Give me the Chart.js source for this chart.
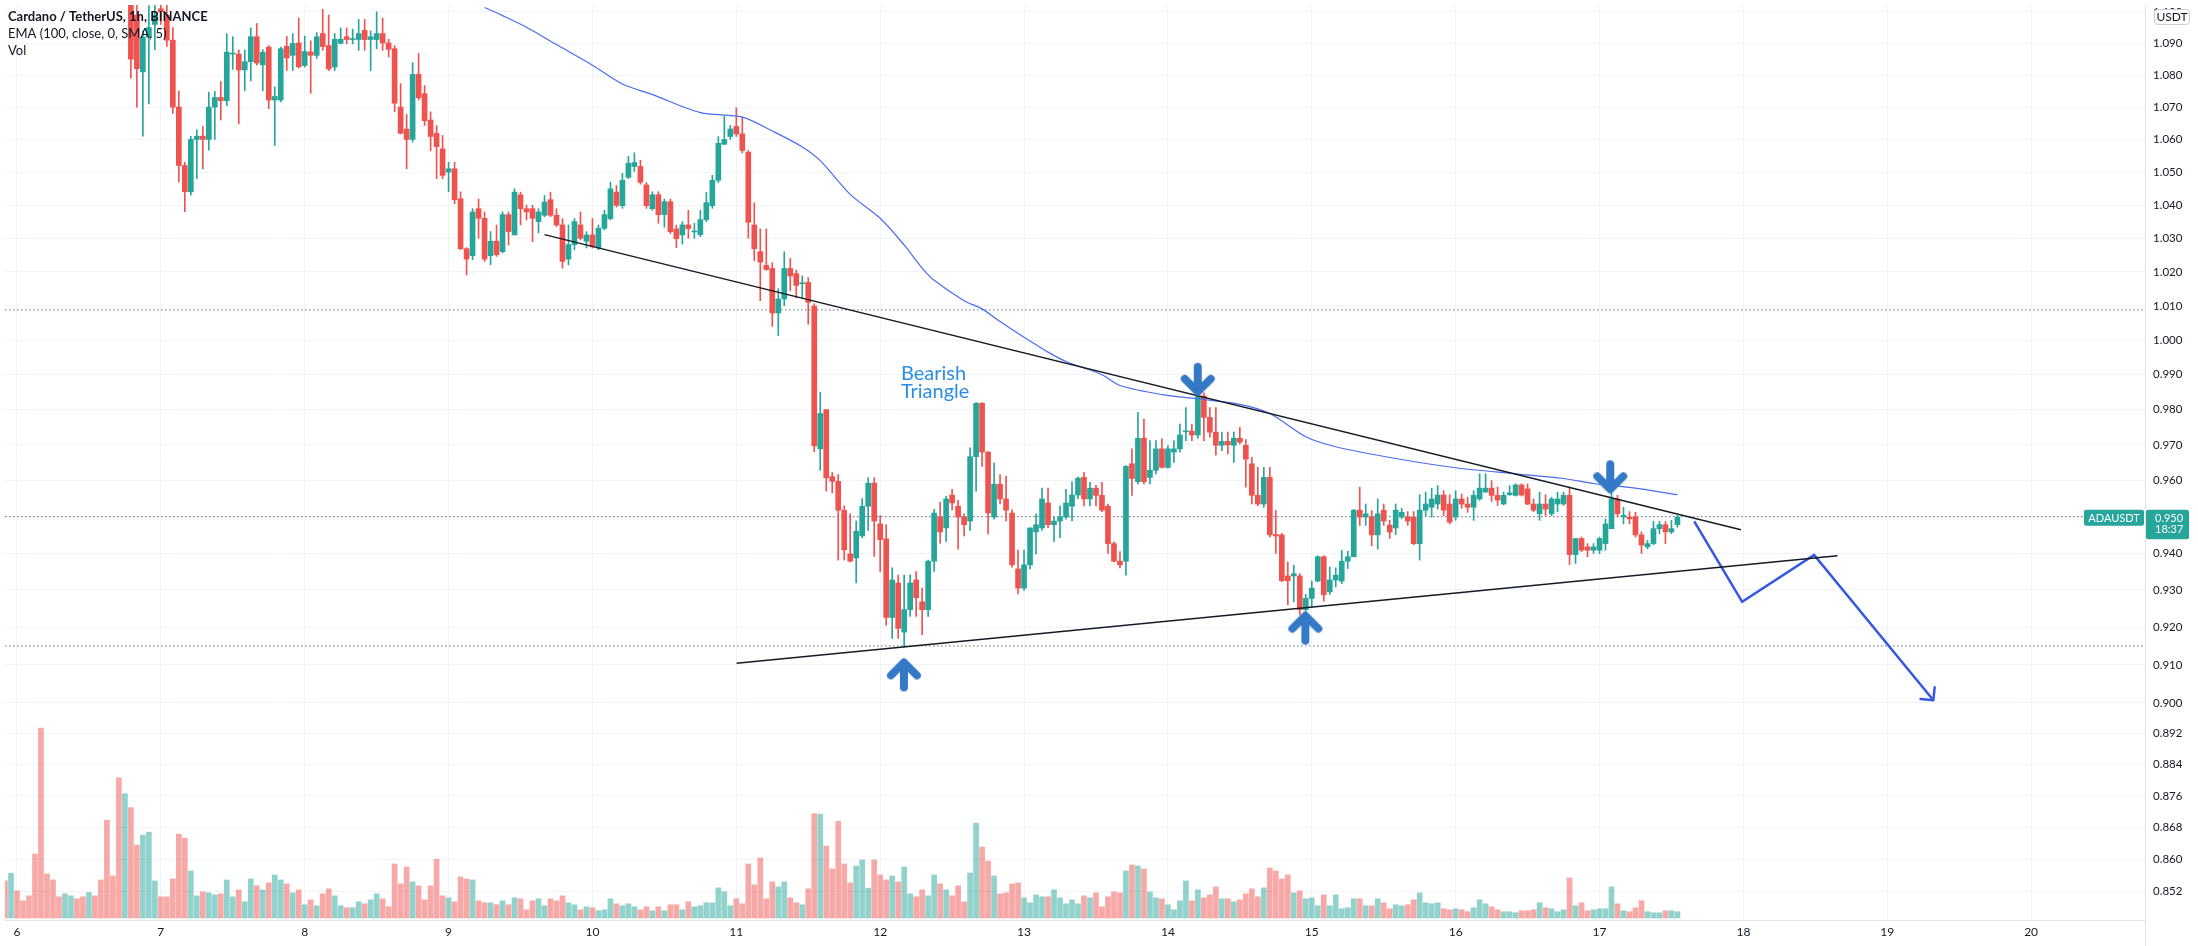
<!DOCTYPE html>
<html>
<head>
<meta charset="utf-8">
<title>ADAUSDT 1h</title>
<script src="https://cdn.jsdelivr.net/npm/chart.js@4.4.1/dist/chart.umd.min.js"></script>
<style>
    html, body { margin: 0; padding: 0; background: #ffffff; }
    #wrap { width: 2198px; height: 946px; }
</style>
</head>
<body>
<div id="wrap"><canvas id="chart" width="2198" height="946"></canvas></div>
<script>
// hour 0 = day 6, 00:00 (1h candles)
const firstCandleHour = 19;
// [open, high, low, close]
const candles = [
    [1.1120, 1.1160, 1.0790, 1.0850], [1.0990, 1.1040, 1.0700, 1.0820], [1.0810, 1.0940, 1.0610, 1.0920], [1.0920, 1.1020, 1.0710, 1.0950],
    [1.0960, 1.1030, 1.0880, 1.0990], [1.1010, 1.1060, 1.0960, 1.1000], [1.0990, 1.1040, 1.0890, 1.0910], [1.0910, 1.0950, 1.0680, 1.0700],
    [1.0700, 1.0750, 1.0470, 1.0520], [1.0520, 1.0530, 1.0380, 1.0440], [1.0440, 1.0610, 1.0430, 1.0600], [1.0600, 1.0630, 1.0480, 1.0610],
    [1.0610, 1.0640, 1.0510, 1.0600], [1.0600, 1.0746, 1.0567, 1.0700], [1.0700, 1.0749, 1.0600, 1.0730], [1.0730, 1.0780, 1.0660, 1.0720],
    [1.0720, 1.0931, 1.0704, 1.0872], [1.0866, 1.0921, 1.0818, 1.0868], [1.0866, 1.0879, 1.0648, 1.0816], [1.0816, 1.0879, 1.0751, 1.0842],
    [1.0842, 1.0949, 1.0782, 1.0921], [1.0921, 1.0963, 1.0831, 1.0838], [1.0832, 1.0880, 1.0751, 1.0872], [1.0888, 1.0893, 1.0695, 1.0722],
    [1.0722, 1.0763, 1.0581, 1.0733], [1.0722, 1.0888, 1.0716, 1.0883], [1.0891, 1.0922, 1.0814, 1.0854], [1.0862, 1.0931, 1.0814, 1.0900],
    [1.0901, 1.0980, 1.0822, 1.0826], [1.0830, 1.0923, 1.0825, 1.0874], [1.0873, 1.0908, 1.0743, 1.0862], [1.0862, 1.0934, 1.0852, 1.0921],
    [1.0931, 1.1008, 1.0878, 1.0890], [1.0893, 1.0990, 1.0814, 1.0819], [1.0825, 1.0931, 1.0814, 1.0913], [1.0900, 1.0949, 1.0898, 1.0913],
    [1.0921, 1.0949, 1.0898, 1.0912], [1.0912, 1.0945, 1.0898, 1.0914], [1.0912, 1.0976, 1.0878, 1.0931], [1.0941, 1.0976, 1.0878, 1.0912],
    [1.0912, 1.0939, 1.0814, 1.0921], [1.0912, 1.1000, 1.0883, 1.0931], [1.0931, 1.0980, 1.0878, 1.0901], [1.0901, 1.0913, 1.0857, 1.0881],
    [1.0883, 1.0893, 1.0685, 1.0712], [1.0700, 1.0773, 1.0617, 1.0619], [1.0632, 1.0677, 1.0510, 1.0600], [1.0600, 1.0839, 1.0592, 1.0802],
    [1.0802, 1.0868, 1.0722, 1.0729], [1.0742, 1.0767, 1.0643, 1.0658], [1.0660, 1.0685, 1.0565, 1.0609], [1.0619, 1.0643, 1.0480, 1.0578],
    [1.0571, 1.0612, 1.0480, 1.0490], [1.0500, 1.0530, 1.0440, 1.0510], [1.0510, 1.0530, 1.0404, 1.0416], [1.0419, 1.0440, 1.0266, 1.0269],
    [1.0269, 1.0272, 1.0191, 1.0238], [1.0248, 1.0389, 1.0236, 1.0379], [1.0389, 1.0418, 1.0300, 1.0360], [1.0360, 1.0379, 1.0231, 1.0238],
    [1.0248, 1.0320, 1.0221, 1.0291], [1.0291, 1.0340, 1.0246, 1.0251], [1.0260, 1.0379, 1.0256, 1.0371], [1.0371, 1.0379, 1.0280, 1.0320],
    [1.0310, 1.0449, 1.0310, 1.0439], [1.0431, 1.0439, 1.0340, 1.0389], [1.0389, 1.0399, 1.0355, 1.0379], [1.0389, 1.0399, 1.0290, 1.0360],
    [1.0350, 1.0389, 1.0316, 1.0379], [1.0369, 1.0429, 1.0365, 1.0409], [1.0416, 1.0439, 1.0365, 1.0369], [1.0369, 1.0389, 1.0335, 1.0340],
    [1.0340, 1.0359, 1.0211, 1.0231], [1.0238, 1.0340, 1.0221, 1.0281], [1.0281, 1.0359, 1.0266, 1.0350], [1.0340, 1.0379, 1.0295, 1.0300],
    [1.0291, 1.0320, 1.0271, 1.0310], [1.0310, 1.0359, 1.0271, 1.0276], [1.0271, 1.0340, 1.0266, 1.0330], [1.0330, 1.0384, 1.0325, 1.0371],
    [1.0359, 1.0469, 1.0355, 1.0449], [1.0439, 1.0459, 1.0394, 1.0399], [1.0398, 1.0496, 1.0390, 1.0475], [1.0484, 1.0548, 1.0480, 1.0527],
    [1.0517, 1.0559, 1.0502, 1.0529], [1.0517, 1.0536, 1.0463, 1.0469], [1.0461, 1.0468, 1.0390, 1.0398], [1.0389, 1.0440, 1.0384, 1.0431],
    [1.0431, 1.0440, 1.0345, 1.0371], [1.0371, 1.0418, 1.0333, 1.0410], [1.0410, 1.0418, 1.0314, 1.0320], [1.0328, 1.0339, 1.0272, 1.0299],
    [1.0310, 1.0350, 1.0283, 1.0340], [1.0340, 1.0384, 1.0300, 1.0329], [1.0319, 1.0345, 1.0300, 1.0321], [1.0311, 1.0384, 1.0305, 1.0356],
    [1.0356, 1.0438, 1.0350, 1.0407], [1.0398, 1.0490, 1.0390, 1.0475], [1.0475, 1.0609, 1.0468, 1.0588], [1.0585, 1.0671, 1.0585, 1.0600],
    [1.0609, 1.0643, 1.0600, 1.0632], [1.0640, 1.0698, 1.0609, 1.0617], [1.0617, 1.0669, 1.0559, 1.0566], [1.0561, 1.0566, 1.0300, 1.0348],
    [1.0340, 1.0407, 1.0233, 1.0269], [1.0260, 1.0328, 1.0115, 1.0229], [1.0219, 1.0328, 1.0205, 1.0207], [1.0210, 1.0227, 1.0040, 1.0079],
    [1.0079, 1.0150, 1.0013, 1.0120], [1.0120, 1.0260, 1.0100, 1.0210], [1.0210, 1.0240, 1.0144, 1.0188], [1.0195, 1.0205, 1.0123, 1.0160],
    [1.0165, 1.0188, 1.0123, 1.0167], [1.0169, 1.0183, 1.0046, 1.0110], [1.0099, 1.0106, 0.9681, 0.9697], [0.9689, 0.9850, 0.9629, 0.9789],
    [0.9800, 0.9800, 0.9571, 0.9608], [0.9611, 0.9623, 0.9566, 0.9598], [0.9598, 0.9617, 0.9381, 0.9518], [0.9518, 0.9530, 0.9381, 0.9409],
    [0.9398, 0.9508, 0.9376, 0.9378], [0.9387, 0.9488, 0.9319, 0.9460], [0.9447, 0.9550, 0.9442, 0.9529], [0.9529, 0.9608, 0.9462, 0.9593],
    [0.9593, 0.9608, 0.9391, 0.9488], [0.9480, 0.9503, 0.9350, 0.9437], [0.9439, 0.9478, 0.9205, 0.9226], [0.9226, 0.9360, 0.9170, 0.9327],
    [0.9319, 0.9340, 0.9170, 0.9197], [0.9187, 0.9340, 0.9147, 0.9247], [0.9247, 0.9340, 0.9229, 0.9319], [0.9327, 0.9350, 0.9229, 0.9279],
    [0.9268, 0.9305, 0.9180, 0.9247], [0.9247, 0.9381, 0.9229, 0.9378], [0.9378, 0.9520, 0.9350, 0.9510], [0.9499, 0.9540, 0.9427, 0.9458],
    [0.9469, 0.9556, 0.9432, 0.9549], [0.9560, 0.9576, 0.9519, 0.9538], [0.9529, 0.9545, 0.9411, 0.9499], [0.9499, 0.9508, 0.9447, 0.9478],
    [0.9488, 0.9692, 0.9462, 0.9667], [0.9667, 0.9820, 0.9571, 0.9818], [0.9818, 0.9820, 0.9640, 0.9680], [0.9680, 0.9681, 0.9452, 0.9510],
    [0.9499, 0.9650, 0.9493, 0.9590], [0.9590, 0.9617, 0.9535, 0.9549], [0.9549, 0.9613, 0.9488, 0.9518], [0.9510, 0.9519, 0.9362, 0.9368],
    [0.9357, 0.9408, 0.9289, 0.9305], [0.9305, 0.9408, 0.9299, 0.9368], [0.9368, 0.9469, 0.9357, 0.9469], [0.9458, 0.9508, 0.9398, 0.9478],
    [0.9469, 0.9579, 0.9462, 0.9549], [0.9538, 0.9579, 0.9470, 0.9478], [0.9478, 0.9499, 0.9432, 0.9488], [0.9488, 0.9530, 0.9442, 0.9499],
    [0.9499, 0.9576, 0.9493, 0.9538], [0.9529, 0.9597, 0.9488, 0.9560], [0.9560, 0.9610, 0.9550, 0.9607], [0.9609, 0.9623, 0.9530, 0.9549],
    [0.9549, 0.9595, 0.9530, 0.9579], [0.9579, 0.9587, 0.9530, 0.9559], [0.9559, 0.9595, 0.9514, 0.9518], [0.9529, 0.9535, 0.9399, 0.9426],
    [0.9426, 0.9431, 0.9376, 0.9378], [0.9378, 0.9404, 0.9360, 0.9368], [0.9378, 0.9642, 0.9340, 0.9640], [0.9647, 0.9689, 0.9559, 0.9606],
    [0.9597, 0.9792, 0.9591, 0.9719], [0.9719, 0.9773, 0.9591, 0.9597], [0.9609, 0.9712, 0.9591, 0.9629], [0.9629, 0.9712, 0.9619, 0.9689],
    [0.9689, 0.9717, 0.9635, 0.9637], [0.9637, 0.9698, 0.9635, 0.9689], [0.9680, 0.9712, 0.9651, 0.9689], [0.9689, 0.9759, 0.9680, 0.9728],
    [0.9737, 0.9806, 0.9712, 0.9740], [0.9739, 0.9759, 0.9712, 0.9728], [0.9728, 0.9848, 0.9719, 0.9839], [0.9839, 0.9848, 0.9712, 0.9778],
    [0.9778, 0.9806, 0.9722, 0.9736], [0.9736, 0.9806, 0.9671, 0.9699], [0.9699, 0.9736, 0.9684, 0.9710], [0.9710, 0.9736, 0.9675, 0.9700],
    [0.9699, 0.9736, 0.9651, 0.9719], [0.9719, 0.9750, 0.9703, 0.9708], [0.9699, 0.9715, 0.9582, 0.9660], [0.9647, 0.9665, 0.9535, 0.9559],
    [0.9559, 0.9637, 0.9530, 0.9535], [0.9535, 0.9637, 0.9526, 0.9609], [0.9609, 0.9637, 0.9444, 0.9450], [0.9451, 0.9517, 0.9399, 0.9447],
    [0.9450, 0.9454, 0.9322, 0.9325], [0.9338, 0.9376, 0.9260, 0.9325], [0.9338, 0.9367, 0.9268, 0.9344], [0.9338, 0.9344, 0.9233, 0.9247],
    [0.9247, 0.9288, 0.9240, 0.9277], [0.9277, 0.9324, 0.9253, 0.9305], [0.9324, 0.9393, 0.9322, 0.9390], [0.9390, 0.9393, 0.9270, 0.9287],
    [0.9295, 0.9362, 0.9288, 0.9327], [0.9327, 0.9360, 0.9308, 0.9340], [0.9324, 0.9408, 0.9317, 0.9378], [0.9378, 0.9405, 0.9358, 0.9390],
    [0.9390, 0.9520, 0.9390, 0.9518], [0.9518, 0.9582, 0.9476, 0.9499], [0.9499, 0.9535, 0.9476, 0.9508], [0.9499, 0.9517, 0.9420, 0.9450],
    [0.9450, 0.9549, 0.9411, 0.9508], [0.9518, 0.9535, 0.9476, 0.9488], [0.9477, 0.9490, 0.9440, 0.9458], [0.9469, 0.9535, 0.9451, 0.9518],
    [0.9499, 0.9523, 0.9494, 0.9512], [0.9499, 0.9514, 0.9476, 0.9488], [0.9499, 0.9514, 0.9423, 0.9426], [0.9426, 0.9561, 0.9381, 0.9518],
    [0.9518, 0.9568, 0.9503, 0.9535], [0.9526, 0.9579, 0.9499, 0.9549], [0.9535, 0.9586, 0.9521, 0.9560], [0.9560, 0.9572, 0.9503, 0.9518],
    [0.9535, 0.9561, 0.9480, 0.9485], [0.9499, 0.9572, 0.9490, 0.9549], [0.9549, 0.9563, 0.9523, 0.9535], [0.9535, 0.9554, 0.9512, 0.9526],
    [0.9526, 0.9572, 0.9490, 0.9559], [0.9549, 0.9619, 0.9545, 0.9579], [0.9568, 0.9619, 0.9568, 0.9579], [0.9579, 0.9600, 0.9542, 0.9559],
    [0.9559, 0.9582, 0.9531, 0.9546], [0.9535, 0.9568, 0.9533, 0.9559], [0.9561, 0.9586, 0.9559, 0.9566], [0.9559, 0.9591, 0.9557, 0.9588],
    [0.9588, 0.9591, 0.9557, 0.9560], [0.9577, 0.9591, 0.9533, 0.9535], [0.9535, 0.9549, 0.9514, 0.9518], [0.9508, 0.9568, 0.9490, 0.9535],
    [0.9535, 0.9561, 0.9503, 0.9521], [0.9508, 0.9554, 0.9503, 0.9549], [0.9535, 0.9568, 0.9514, 0.9549], [0.9535, 0.9568, 0.9531, 0.9559],
    [0.9559, 0.9582, 0.9369, 0.9396], [0.9396, 0.9440, 0.9372, 0.9440], [0.9440, 0.9444, 0.9404, 0.9408], [0.9417, 0.9426, 0.9390, 0.9408],
    [0.9408, 0.9426, 0.9399, 0.9417], [0.9408, 0.9444, 0.9399, 0.9440], [0.9426, 0.9494, 0.9408, 0.9480], [0.9467, 0.9568, 0.9467, 0.9549],
    [0.9549, 0.9559, 0.9499, 0.9508], [0.9499, 0.9526, 0.9480, 0.9504], [0.9499, 0.9514, 0.9480, 0.9494], [0.9499, 0.9512, 0.9444, 0.9450],
    [0.9450, 0.9458, 0.9399, 0.9422], [0.9417, 0.9435, 0.9412, 0.9426], [0.9426, 0.9487, 0.9423, 0.9467], [0.9467, 0.9487, 0.9453, 0.9478],
    [0.9478, 0.9487, 0.9426, 0.9458], [0.9458, 0.9490, 0.9453, 0.9467], [0.9478, 0.9503, 0.9471, 0.9499]
];

// volume, millions, from hour -2
const firstVolumeHour = -2;
const volumes = [
    3.73, 4.50, 2.73, 1.73, 2.23, 6.43, 19.1, 4.43, 3.83, 2.13,
    2.43, 2.23, 1.93, 2.13, 2.57, 2.23, 3.83, 9.83, 4.23, 14.1,
    12.5, 11.1, 7.33, 8.33, 8.63, 3.73, 2.13, 2.13, 3.93, 8.43,
    8.03, 4.73, 2.23, 2.63, 2.53, 2.33, 2.43, 3.83, 2.13, 2.83,
    1.63, 3.93, 3.23, 2.83, 3.53, 4.33, 3.83, 3.43, 2.53, 2.83,
    1.33, 1.83, 1.23, 2.43, 2.93, 2.23, 1.23, 1.03, 1.03, 1.63,
    1.43, 1.83, 2.43, 1.93, 1.13, 5.43, 3.43, 5.13, 3.63, 3.23,
    1.83, 3.23, 5.90, 2.23, 2.03, 1.63, 4.13, 3.93, 3.83, 1.73,
    1.53, 1.53, 1.33, 1.73, 1.33, 2.03, 1.93, 0.83, 1.73, 1.93,
    1.23, 1.93, 1.73, 2.23, 1.53, 1.33, 0.83, 1.13, 1.03, 0.73,
    0.83, 1.93, 1.43, 1.23, 1.43, 1.13, 0.83, 1.13, 0.73, 1.13,
    0.73, 1.33, 1.33, 0.83, 1.63, 1.13, 1.23, 1.53, 1.53, 3.03,
    2.63, 1.23, 1.93, 1.43, 5.43, 3.33, 6.03, 1.93, 3.63, 3.13,
    3.63, 2.03, 1.53, 1.33, 2.93, 10.5, 10.43, 7.23, 4.93, 9.73,
    5.43, 3.53, 5.23, 5.83, 3.00, 5.83, 4.33, 3.83, 4.23, 3.63,
    5.13, 2.43, 2.13, 2.83, 2.23, 4.33, 3.43, 2.83, 2.23, 3.23,
    1.63, 4.53, 9.53, 7.13, 5.73, 4.23, 2.43, 2.53, 3.43, 3.53,
    2.03, 1.53, 2.33, 2.13, 2.13, 2.83, 2.03, 1.43, 1.83, 1.43,
    2.23, 2.03, 2.53, 1.13, 2.13, 2.63, 2.53, 4.73, 5.33, 5.23,
    4.93, 2.63, 2.03, 1.93, 1.33, 0.83, 1.73, 3.73, 1.73, 2.83,
    2.03, 2.33, 3.13, 1.93, 1.93, 1.63, 1.83, 2.43, 2.93, 2.13,
    3.03, 5.03, 4.73, 3.93, 4.33, 2.53, 2.73, 1.93, 2.03, 1.23,
    2.33, 1.23, 2.33, 0.93, 1.03, 1.93, 1.93, 1.23, 1.23, 1.93,
    1.53, 0.93, 1.33, 1.23, 1.33, 1.83, 2.53, 1.53, 1.43, 1.53,
    0.93, 0.83, 0.93, 0.83, 0.63, 1.03, 1.83, 1.43, 1.13, 0.83,
    0.63, 0.63, 0.53, 0.73, 0.73, 0.83, 1.53, 1.03, 0.93, 0.63,
    0.83, 4.03, 1.23, 1.53, 0.73, 0.83, 0.93, 0.93, 3.13, 1.43,
    0.73, 0.63, 1.03, 1.73, 0.63, 0.53, 0.53, 0.73, 0.73, 0.63
];
// up (1) / down (0) for the volume bars whose candles sit above the visible range
const earlyVolumeUp = [0, 1, 0, 0, 0, 0, 0, 0, 0, 0, 1, 1, 0, 0, 1, 0, 0, 0, 0, 0, 1];

// EMA (100, close, 0, SMA, 5): [hour, value]
const emaPoints = [
    [78, 1.1014], [81, 1.0988], [85, 1.0951], [90, 1.0896], [96, 1.0831], [101, 1.0772], [106, 1.0739],
    [114, 1.0683], [121, 1.0669], [126, 1.0626], [131, 1.0577], [134, 1.0535], [139, 1.0432], [144, 1.0360],
    [148, 1.0280], [151, 1.0211], [153, 1.0175], [158, 1.0115], [161, 1.0091], [164, 1.0054], [168, 1.0008],
    [172, 0.9965], [175, 0.9938], [181, 0.9900], [184, 0.9869], [191, 0.9843], [197, 0.9831], [204, 0.9815],
    [209, 0.9789], [215, 0.9723], [220, 0.9695], [230, 0.9662], [240, 0.9636], [250, 0.9619], [258, 0.9606],
    [263, 0.9592], [269, 0.9581], [277, 0.9561]
];

// drawings
const resistanceLine = [[88.0, 1.0311], [287.6, 0.9464]];
const supportLine = [[120.05, 0.9104], [303.7, 0.9393]];
const projectionPath = [[279.8, 0.9487], [287.8, 0.9268], [299.8, 0.9395], [319.7, 0.9007]];
const levelLines = [1.0088, 0.9150];
const lastPrice = 0.950;
const countdown = '18:37';
const arrowMarks = [[147.96, 0.9072, 'up'], [196.98, 0.9888, 'down'], [214.93, 0.9196, 'up'], [265.8, 0.9612, 'down']];
const patternLabel = ['Bearish', 'Triangle'];
const patternLabelAt = [147.46, 0.9885];

const dayTicks = [6, 7, 8, 9, 10, 11, 12, 13, 14, 15, 16, 17, 18, 19, 20];
const priceTicks = [0.852, 0.860, 0.868, 0.876, 0.884, 0.892, 0.900, 0.910, 0.920, 0.930, 0.940, 0.950, 0.960, 0.970,
    0.980, 0.990, 1.000, 1.010, 1.020, 1.030, 1.040, 1.050, 1.060, 1.070, 1.080, 1.090, 1.100];
const legendLines = ['Cardano / TetherUS, 1h, BINANCE', 'EMA (100, close, 0, SMA, 5)', 'Vol'];

// ---- styles ----
const UP = '#26a69a';
const DOWN = '#ef5350';
const UP_VOL = 'rgba(38, 166, 154, 0.5)';
const DOWN_VOL = 'rgba(239, 83, 80, 0.5)';
const GRID = '#f0f3fa';
const TEXT = '#131722';
const PROJ = '#3557e3';
const FONT = 'Lato, "Noto Sans", sans-serif';

const isUp = c => c[3] >= c[0];
const candleColors = candles.map(c => isUp(c) ? UP : DOWN);
const wickData = candles.map((c, i) => ({ x: firstCandleHour + i, y: [c[2], c[1]] }));
const bodyData = candles.map((c, i) => ({ x: firstCandleHour + i, y: [Math.min(c[0], c[3]), Math.max(c[0], c[3])] }));
const volumeData = volumes.map((v, i) => ({ x: firstVolumeHour + i, y: v }));
const volumeColors = volumes.map((v, i) => {
    const c = candles[firstVolumeHour + i - firstCandleHour];
    const up = c ? isUp(c) : earlyVolumeUp[i] === 1;
    return up ? UP_VOL : DOWN_VOL;
});
const toXY = pts => pts.map(p => ({ x: p[0], y: p[1] }));

function makeArrow(color) {
    const c = document.createElement('canvas');
    c.width = 44;
    c.height = 44;
    const g = c.getContext('2d');
    g.strokeStyle = color;
    g.lineWidth = 8;
    g.lineCap = 'round';
    g.lineJoin = 'round';
    g.beginPath();
    g.moveTo(22, 34);
    g.lineTo(22, 10);
    g.moveTo(9, 22);
    g.lineTo(22, 9);
    g.lineTo(35, 22);
    g.stroke();
    return c;
}
const arrowIcon = makeArrow('#3479c6');

const levelDatasets = levelLines.concat([lastPrice]).map(v => ({
    type: 'line',
    data: [{ x: -2, y: v }, { x: 355, y: v }],
    borderColor: '#6a6d78',
    borderWidth: 1,
    borderDash: [1.5, 2.5],
    pointRadius: 0,
    order: 6,
}));

const datasets = [
    ...levelDatasets,
    {
        label: 'Volume',
        data: volumeData,
        yAxisID: 'yVol',
        backgroundColor: volumeColors,
        barThickness: 5,
        grouped: false,
        order: 5,
    },
    {
        label: 'Wicks',
        data: wickData,
        backgroundColor: candleColors,
        barThickness: 1,
        grouped: false,
        order: 4,
    },
    {
        label: 'Bodies',
        data: bodyData,
        backgroundColor: candleColors,
        barThickness: 5,
        minBarLength: 1,
        grouped: false,
        order: 3,
    },
    {
        type: 'line',
        label: 'EMA',
        data: toXY(emaPoints),
        borderColor: '#4a6cf0',
        borderWidth: 1.2,
        pointRadius: 0,
        tension: 0.3,
        order: 2,
    },
    {
        type: 'line',
        data: toXY(resistanceLine),
        borderColor: '#161a25',
        borderWidth: 1.4,
        pointRadius: 0,
        order: 1,
    },
    {
        type: 'line',
        data: toXY(supportLine),
        borderColor: '#161a25',
        borderWidth: 1.4,
        pointRadius: 0,
        order: 1,
    },
    {
        type: 'line',
        label: 'Projection',
        data: toXY(projectionPath),
        borderColor: PROJ,
        borderWidth: 2.5,
        pointRadius: 0,
        order: 1,
    },
    {
        type: 'line',
        label: 'Arrows',
        data: arrowMarks.map(a => ({ x: a[0], y: a[1] })),
        showLine: false,
        pointStyle: arrowIcon,
        pointRotation: arrowMarks.map(a => a[2] === 'down' ? 180 : 0),
        order: 0,
    },
];
const projectionIndex = datasets.findIndex(d => d.label === 'Projection');

const overlay = {
    id: 'overlay',
    afterDatasetsDraw(chart) {
        const { ctx } = chart;
        const x = chart.scales.x, y = chart.scales.y;

        // arrowhead at the end of the projection path
        const pts = chart.getDatasetMeta(projectionIndex).data;
        const a = pts[pts.length - 2], b = pts[pts.length - 1];
        const ang = Math.atan2(b.y - a.y, b.x - a.x);
        ctx.save();
        ctx.strokeStyle = PROJ;
        ctx.lineWidth = 2.5;
        ctx.lineCap = 'round';
        ctx.beginPath();
        [-Math.PI / 4, Math.PI / 4].forEach(d => {
            ctx.moveTo(b.x, b.y);
            ctx.lineTo(b.x - 13 * Math.cos(ang + d), b.y - 13 * Math.sin(ang + d));
        });
        ctx.stroke();

        // pattern label
        ctx.fillStyle = '#2a8ee8';
        ctx.font = '20px ' + FONT;
        ctx.textBaseline = 'alphabetic';
        ctx.textAlign = 'left';
        const lx = x.getPixelForValue(patternLabelAt[0]);
        const ly = y.getPixelForValue(patternLabelAt[1]);
        patternLabel.forEach((t, i) => ctx.fillText(t, lx, ly + i * 18.3));
        ctx.restore();
    },
    afterDraw(chart) {
        const { ctx, chartArea } = chart;
        const y = chart.scales.y;
        ctx.save();

        // legend
        ctx.textBaseline = 'middle';
        ctx.textAlign = 'left';
        ctx.fillStyle = TEXT;
        legendLines.forEach((t, i) => {
            ctx.font = (i === 0 ? 'bold ' : '') + '13px ' + FONT;
            ctx.fillText(t, 8, 17 + i * 16.7);
        });

        // last price tags
        const py = y.getPixelForValue(lastPrice);
        const axisLeft = chartArea.right;
        ctx.fillStyle = UP;
        ctx.beginPath();
        ctx.roundRect(axisLeft - 61, py - 7, 60, 16, 2);
        ctx.fill();
        ctx.beginPath();
        ctx.roundRect(axisLeft + 1, py - 7, 43, 29.5, 2);
        ctx.fill();
        ctx.fillStyle = '#ffffff';
        ctx.font = '11px ' + FONT;
        ctx.textAlign = 'center';
        ctx.fillText('ADAUSDT', axisLeft - 31, py + 1.3);
        ctx.textAlign = 'left';
        ctx.fillText(lastPrice.toFixed(3), axisLeft + 10, py + 1.3);
        ctx.fillText(countdown, axisLeft + 10, py + 12.3);

        // currency box
        ctx.fillStyle = '#ffffff';
        ctx.strokeStyle = '#c9cdd6';
        ctx.lineWidth = 1;
        ctx.beginPath();
        ctx.roundRect(axisLeft + 9.5, 9.5, 35, 15, 3);
        ctx.fill();
        ctx.stroke();
        ctx.fillStyle = TEXT;
        ctx.font = '12px ' + FONT;
        ctx.textAlign = 'center';
        ctx.fillText('USDT', axisLeft + 27, 17.3);

        // axis separator through the time scale row
        ctx.strokeStyle = '#e0e3eb';
        ctx.beginPath();
        ctx.moveTo(axisLeft + 0.5, chartArea.bottom);
        ctx.lineTo(axisLeft + 0.5, chart.height);
        ctx.stroke();
        ctx.restore();
    }
};

new Chart(document.getElementById('chart'), {
    type: 'bar',
    data: { datasets: datasets },
    options: {
        responsive: false,
        animation: false,
        devicePixelRatio: 1,
        layout: { padding: 0 },
        plugins: {
            legend: { display: false },
            tooltip: { enabled: false },
        },
        scales: {
            x: {
                type: 'linear',
                min: -2,
                max: 355,
                offset: false,
                grid: { color: GRID, offset: false, drawTicks: false },
                border: { color: '#e0e3eb' },
                ticks: {
                    autoSkip: false,
                    maxRotation: 0,
                    padding: 5,
                    color: TEXT,
                    font: { family: FONT, size: 12 },
                    callback: v => String(6 + v / 24),
                },
                afterBuildTicks: s => { s.ticks = dayTicks.map(d => ({ value: (d - 6) * 24 })); },
                afterFit: s => { s.height = 26; s.paddingLeft = 0; s.paddingRight = 0; },
            },
            y: {
                type: 'logarithmic',
                position: 'right',
                min: 0.8450,
                max: 1.1022,
                grid: { color: GRID, drawTicks: false },
                border: { color: '#e0e3eb' },
                ticks: {
                    autoSkip: false,
                    padding: 8,
                    color: TEXT,
                    font: { family: FONT, size: 11.5 },
                    callback: v => Number(v).toFixed(3),
                },
                afterBuildTicks: s => { s.ticks = priceTicks.map(v => ({ value: v })); },
                afterFit: s => { s.width = 53; s.paddingTop = 0; s.paddingBottom = 0; },
            },
            yVol: {
                type: 'linear',
                display: false,
                min: -0.2,
                max: 91.8,
            },
        },
    },
    plugins: [overlay],
});
</script>
</body>
</html>
